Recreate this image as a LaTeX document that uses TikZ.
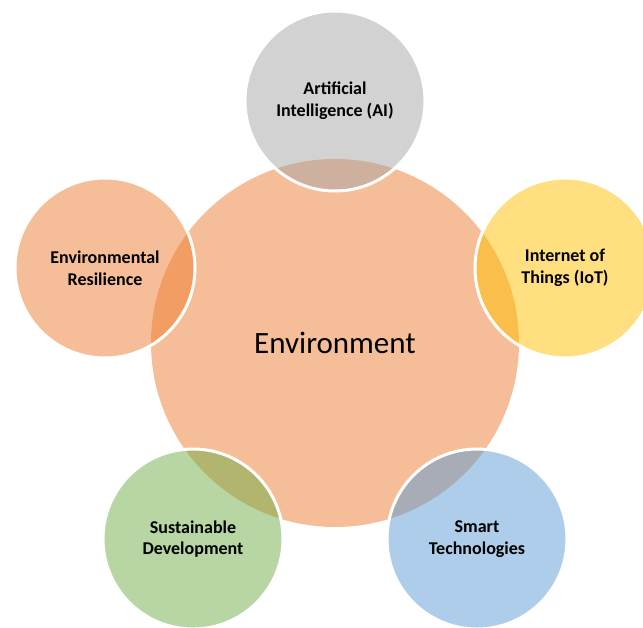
\documentclass[tikz,border=0pt]{standalone}
\usepackage{fontspec}
\setmainfont{Carlito}
\definecolor{accOrange}{HTML}{ED7D31}
\definecolor{accGray}{HTML}{A5A5A5}
\definecolor{accGold}{HTML}{FFC000}
\definecolor{accBlue}{HTML}{5B9BD5}
\definecolor{accGreen}{HTML}{70AD47}
\tikzset{
  hub/.style={circle, inner sep=0pt, minimum size=368pt, fill=accOrange,
    fill opacity=0.5, text opacity=1,
    font=\fontsize{31}{37}\selectfont},
  spoke/.style={circle, inner sep=0pt, minimum size=180pt, draw=white,
    line width=3pt, fill=#1, fill opacity=0.5, text opacity=1, align=center,
    font=\bfseries\fontsize{18}{21.7}\selectfont},
}
\begin{document}
\begin{tikzpicture}[x=1pt,y=-1pt]
  \useasboundingbox (0,0) rectangle (643,627);
  % central topic
  \node[hub] (env) at (335,343) {Environment};
  % surrounding topics, placed on a pentagon around the hub
  \node[spoke=accGray]   (ai)    at (335,101) {Artificial\\Intelligence (AI)};
  \node[spoke=accGold]   (iot)   at (565,268) {Internet of\\Things (IoT)};
  \node[spoke=accBlue]   (smart) at (477,539) {Smart\\Technologies};
  \node[spoke=accGreen]  (sust)  at (193,539) {Sustainable\\Development};
  \node[spoke=accOrange] (resil) at (105,268) {Environmental\\Resilience};
\end{tikzpicture}
\end{document}
